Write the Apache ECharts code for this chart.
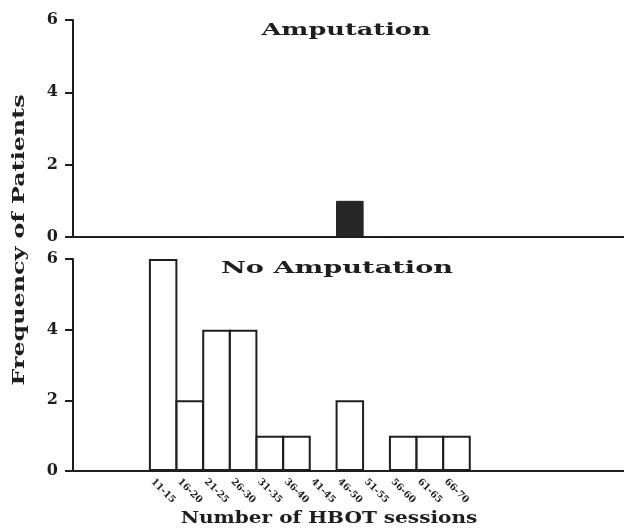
<!DOCTYPE html>
<html>
<head>
<meta charset="utf-8">
<script src="https://cdn.jsdelivr.net/npm/echarts@6/dist/echarts.min.js"></script>
<style>
  html, body { margin: 0; padding: 0; background: #fff; }
  #chart { width: 624px; height: 531px; }
</style>
</head>
<body>
<div id="chart"></div>
<script>
  // bins of HBOT sessions (tick labels) and their centres on the value axis
  const sessionBins = ['11-15', '16-20', '21-25', '26-30', '31-35', '36-40',
    '41-45', '46-50', '51-55', '56-60', '61-65', '66-70'];
  const binCenters = [13, 18, 23, 28, 33, 38, 43, 48, 53, 58, 63, 68];
  // frequency of patients per bin
  const amputation = [0, 0, 0, 0, 0, 0, 0, 1, 0, 0, 0, 0];
  const noAmputation = [6, 2, 4, 4, 1, 1, 0, 2, 0, 1, 1, 1];
  const yTicks = [0, 2, 4, 6];

  const ink = '#1e1e1e';
  const serif = '"DejaVu Serif", "Liberation Serif", serif';

  function pairs(vals) {
    return vals.map((v, i) => [binCenters[i], v]);
  }

  function xAxis(idx, showLabels) {
    return {
      type: 'value',
      gridIndex: idx,
      min: -3.9,
      max: 99.4,
      splitLine: { show: false },
      axisTick: { show: false },
      axisLine: { show: true, onZero: false, lineStyle: { color: ink, width: 2 } },
      axisLabel: {
        show: showLabels,
        customValues: binCenters,
        formatter: function (v) {
          return sessionBins[binCenters.indexOf(v)] || '';
        },
        rotate: -45,
        align: 'center',
        verticalAlign: 'middle',
        margin: 20,
        color: ink,
        fontFamily: serif,
        fontWeight: 'bold',
        fontSize: 9.5
      }
    };
  }

  function yAxis(idx) {
    return {
      type: 'value',
      gridIndex: idx,
      min: 0,
      max: 6,
      interval: 2,
      splitLine: { show: false },
      axisLine: { show: true, onZero: false, lineStyle: { color: ink, width: 2 } },
      axisTick: { show: true, length: 8, lineStyle: { color: ink, width: 2 } },
      axisLabel: {
        margin: 15,
        color: ink,
        fontFamily: serif,
        fontWeight: 'bold',
        fontSize: 16,
        formatter: v => (yTicks.indexOf(v) >= 0 ? String(v) : '')
      }
    };
  }

  function label(text, x, y, size, sx, rot) {
    return {
      type: 'text',
      x: x,
      y: y,
      scaleX: sx,
      rotation: rot || 0,
      style: {
        text: text,
        fill: ink,
        font: 'bold ' + size + 'px ' + serif,
        textAlign: 'center',
        textVerticalAlign: 'middle'
      }
    };
  }

  const chart = echarts.init(document.getElementById('chart'));
  chart.setOption({
    backgroundColor: '#fff',
    animation: false,
    grid: [
      { left: 73, right: 0, top: 20, height: 217, outerBoundsMode: 'none' },
      { left: 73, right: 0, top: 259, height: 212, outerBoundsMode: 'none' }
    ],
    xAxis: [xAxis(0, false), xAxis(1, true)],
    yAxis: [yAxis(0), yAxis(1)],
    series: [
      {
        name: 'Amputation',
        type: 'bar',
        xAxisIndex: 0,
        yAxisIndex: 0,
        barWidth: 27.5,
        itemStyle: { color: '#262626', borderColor: ink, borderWidth: 1 },
        data: pairs(amputation)
      },
      {
        name: 'No Amputation',
        type: 'bar',
        xAxisIndex: 1,
        yAxisIndex: 1,
        barWidth: 28.5,
        itemStyle: { color: '#fff', borderColor: ink, borderWidth: 2 },
        data: pairs(noAmputation)
      }
    ],
    graphic: [
      label('Amputation', 346, 31, 16, 1.6),
      label('No Amputation', 337, 269, 17, 1.6),
      label('Number of HBOT sessions', 329, 519, 17, 1.18),
      label('Frequency of Patients', 20, 240, 17, 1.4, Math.PI / 2)
    ]
  });
</script>
</body>
</html>
